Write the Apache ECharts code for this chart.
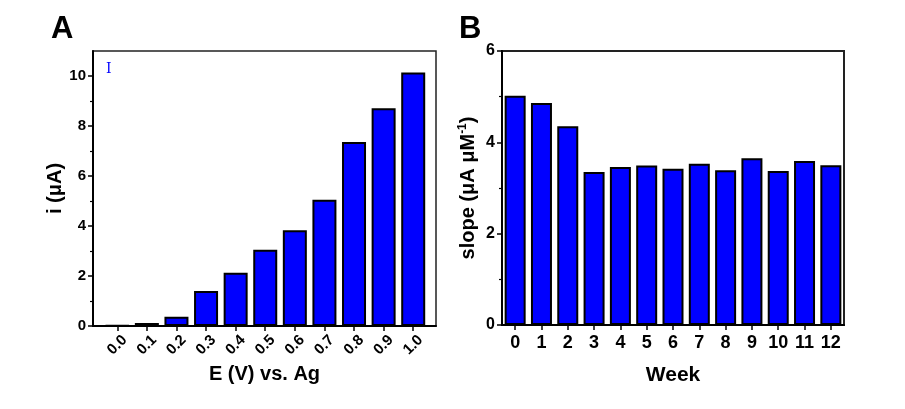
<!DOCTYPE html>
<html>
<head>
<meta charset="utf-8">
<script src="https://cdn.jsdelivr.net/npm/echarts@6/dist/echarts.min.js"></script>
<style>
  html, body { margin: 0; padding: 0; background: #fff; }
  #chart { width: 905px; height: 409px; }
</style>
</head>
<body>
<div id="chart"></div>
<script>
// Panel A: current vs applied potential
const voltages = [0.0, 0.1, 0.2, 0.3, 0.4, 0.5, 0.6, 0.7, 0.8, 0.9, 1.0]
const currents = [0.02, 0.12, 0.37, 1.4, 2.13, 3.05, 3.83, 5.05, 7.36, 8.71, 10.14]
const currentTicks = [0, 2, 4, 6, 8, 10]

// Panel B: sensitivity over weeks
const weeks = ['0', '1', '2', '3', '4', '5', '6', '7', '8', '9', '10', '11', '12']
const slopes = [5.02, 4.86, 4.35, 3.35, 3.46, 3.49, 3.42, 3.53, 3.39, 3.65, 3.37, 3.59, 3.5]

const FONT = '"Liberation Sans", Arial, sans-serif'
const BLUE = '#0000ff'

const chart = echarts.init(document.getElementById('chart'))

const axisLine = { show: true, onZero: false, lineStyle: { color: '#000', width: 2 } }
const tick = { show: true, inside: false, length: 5, lineStyle: { color: '#000', width: 1.5 } }
const minor = { show: true, splitNumber: 2, length: 3, lineStyle: { color: '#000', width: 1.2 } }

const option = {
  animation: false,
  backgroundColor: '#fff',
  textStyle: { fontFamily: FONT },
  title: [
    { text: 'A', left: 46, top: 9, textStyle: { fontSize: 31, fontWeight: 'bold', color: '#000', fontFamily: FONT } },
    { text: 'B', left: 454, top: 9, textStyle: { fontSize: 31, fontWeight: 'bold', color: '#000', fontFamily: FONT } }
  ],
  graphic: [
    {
      type: 'text', left: 106, top: 62,
      style: { text: 'I', fill: BLUE, font: '14px "DejaVu Serif", serif' }
    }
  ],
  grid: [
    { left: 93, top: 51, width: 343, bottom: 83, show: true, borderColor: '#222', borderWidth: 1.5, containLabel: false },
    { left: 502, top: 51, right: 61, bottom: 84, show: true, borderColor: '#222', borderWidth: 2, containLabel: false }
  ],
  xAxis: [
    {
      gridIndex: 0,
      type: 'value',
      min: -0.082,
      max: 1.077,
      name: 'E (V) vs. Ag',
      nameLocation: 'middle',
      nameGap: 35,
      nameTextStyle: { fontSize: 20, fontWeight: 'bold', color: '#000', fontFamily: FONT },
      axisLine: axisLine,
      axisTick: Object.assign({ customValues: voltages }, tick),
      splitLine: { show: false },
      axisLabel: {
        customValues: voltages,
        rotate: 45,
        align: 'center',
        verticalAlign: 'middle',
        margin: 19,
        fontSize: 15,
        fontWeight: 'bold',
        color: '#000',
        fontFamily: FONT,
        formatter: v => v.toFixed(1)
      }
    },
    {
      gridIndex: 1,
      type: 'category',
      data: weeks,
      name: 'Week',
      nameLocation: 'middle',
      nameGap: 40,
      nameTextStyle: { fontSize: 21, fontWeight: 'bold', color: '#000', fontFamily: FONT },
      axisLine: axisLine,
      axisTick: Object.assign({ alignWithLabel: true }, tick),
      axisLabel: { margin: 9, fontSize: 18, fontWeight: 'bold', color: '#000', fontFamily: FONT, interval: 0 }
    }
  ],
  yAxis: [
    {
      gridIndex: 0,
      type: 'value',
      min: 0,
      max: 11,
      interval: 2,
      name: 'i (μA)',
      nameLocation: 'middle',
      nameGap: 21,
      nameRotate: 90,
      nameTextStyle: { fontSize: 20, fontWeight: 'bold', color: '#000', fontFamily: FONT },
      axisLine: axisLine,
      axisTick: Object.assign({ customValues: currentTicks }, tick),
      minorTick: minor,
      splitLine: { show: false },
      minorSplitLine: { show: false },
      axisLabel: { customValues: currentTicks, margin: 7, fontSize: 15, fontWeight: 'bold', color: '#000', fontFamily: FONT }
    },
    {
      gridIndex: 1,
      type: 'value',
      min: 0,
      max: 6,
      interval: 2,
      name: '{t|slope (μA μM}{s|-1}{t|)}',
      nameLocation: 'middle',
      nameGap: 23,
      nameRotate: 90,
      nameTextStyle: {
        fontSize: 20, fontWeight: 'bold', color: '#000', fontFamily: FONT,
        rich: {
          t: { fontSize: 20, fontWeight: 'bold', color: '#000', fontFamily: FONT },
          s: { fontSize: 12, fontWeight: 'bold', color: '#000', fontFamily: FONT, padding: [0, 0, 10, 0] }
        }
      },
      axisLine: axisLine,
      axisTick: tick,
      minorTick: minor,
      splitLine: { show: false },
      minorSplitLine: { show: false },
      axisLabel: { margin: 7, fontSize: 16, fontWeight: 'bold', color: '#000', fontFamily: FONT }
    }
  ],
  series: [
    {
      type: 'bar',
      xAxisIndex: 0,
      yAxisIndex: 0,
      barWidth: 24,
      data: voltages.map((v, i) => [v, currents[i]]),
      itemStyle: { color: BLUE, borderColor: '#000', borderWidth: 2 }
    },
    {
      type: 'bar',
      xAxisIndex: 1,
      yAxisIndex: 1,
      barWidth: 21,
      data: slopes,
      itemStyle: { color: BLUE, borderColor: '#000', borderWidth: 2 }
    }
  ]
}

chart.setOption(option)
</script>
</body>
</html>
